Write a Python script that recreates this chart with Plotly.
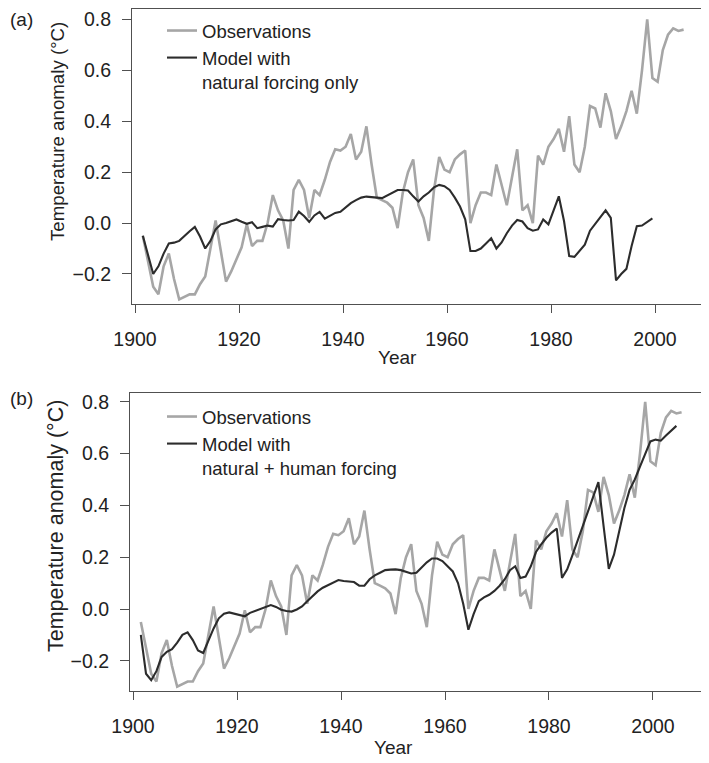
import plotly.graph_objects as go

# ---------------- data ----------------
obs_years = list(range(1901, 2006))
obs_anom = [
    -0.05, -0.15, -0.25, -0.28, -0.17, -0.12, -0.22, -0.30, -0.29, -0.28,   # 1901-1910
    -0.28, -0.24, -0.21, -0.10, 0.01, -0.11, -0.23, -0.19, -0.14, -0.095,   # 1911-1920
    -0.005, -0.09, -0.07, -0.07, 0.00, 0.11, 0.05, 0.01, -0.10, 0.13,       # 1921-1930
    0.17, 0.13, 0.02, 0.13, 0.11, 0.17, 0.24, 0.29, 0.285, 0.30,            # 1931-1940
    0.35, 0.25, 0.28, 0.38, 0.23, 0.10, 0.09, 0.08, 0.06, -0.02,            # 1941-1950
    0.12, 0.20, 0.25, 0.07, 0.02, -0.07, 0.13, 0.26, 0.21, 0.20,            # 1951-1960
    0.25, 0.27, 0.285, 0.00, 0.07, 0.12, 0.12, 0.11, 0.23, 0.15,            # 1961-1970
    0.07, 0.18, 0.29, 0.05, 0.07, 0.00, 0.265, 0.23, 0.30, 0.33,            # 1971-1980
    0.37, 0.28, 0.42, 0.23, 0.20, 0.30, 0.46, 0.45, 0.375, 0.51,            # 1981-1990
    0.44, 0.33, 0.38, 0.44, 0.52, 0.43, 0.60, 0.80, 0.57, 0.555,            # 1991-2000
    0.68, 0.74, 0.765, 0.755, 0.76,                                         # 2001-2005
]

nat_years = list(range(1901, 2000))
nat_anom = [
    -0.05, -0.12, -0.20, -0.17, -0.12, -0.08, -0.077, -0.07, -0.05, -0.032,  # 1901-1910
    -0.015, -0.053, -0.10, -0.07, -0.025, -0.005, 0.00, 0.007, 0.014, 0.005, # 1911-1920
    -0.003, 0.003, -0.02, -0.015, -0.01, -0.014, 0.015, 0.012, 0.01, 0.012,  # 1921-1930
    0.045, 0.028, 0.005, 0.03, 0.044, 0.017, 0.03, 0.04, 0.044, 0.06,        # 1931-1940
    0.078, 0.09, 0.10, 0.104, 0.103, 0.10, 0.098, 0.108, 0.12, 0.13,         # 1941-1950
    0.13, 0.128, 0.105, 0.085, 0.105, 0.12, 0.14, 0.15, 0.145, 0.13,         # 1951-1960
    0.10, 0.065, 0.015, -0.11, -0.11, -0.10, -0.08, -0.06, -0.10, -0.076,    # 1961-1970
    -0.04, -0.01, 0.012, 0.006, -0.02, -0.03, -0.025, 0.014, -0.005, 0.05,   # 1971-1980
    0.105, 0.008, -0.13, -0.133, -0.11, -0.085, -0.03, -0.003, 0.025, 0.05,  # 1981-1990
    0.02, -0.225, -0.20, -0.18, -0.09, -0.012, -0.01, 0.005, 0.018,          # 1991-1999
]

all_years = list(range(1901, 2005))
all_anom = [
    -0.10, -0.25, -0.275, -0.24, -0.185, -0.165, -0.155, -0.13, -0.10, -0.09,  # 1901-1910
    -0.12, -0.16, -0.17, -0.12, -0.075, -0.036, -0.018, -0.013, -0.017, -0.022, # 1911-1920
    -0.028, -0.015, -0.008, 0.00, 0.008, 0.015, 0.008, -0.003, -0.008, -0.01,  # 1921-1930
    -0.002, 0.01, 0.03, 0.05, 0.068, 0.082, 0.092, 0.10, 0.112, 0.108,         # 1931-1940
    0.106, 0.104, 0.09, 0.09, 0.115, 0.13, 0.14, 0.15, 0.152, 0.153,           # 1941-1950
    0.15, 0.143, 0.137, 0.14, 0.16, 0.18, 0.195, 0.195, 0.185, 0.165,          # 1951-1960
    0.145, 0.10, 0.02, -0.08, -0.02, 0.03, 0.045, 0.055, 0.07, 0.09,           # 1961-1970
    0.115, 0.15, 0.165, 0.12, 0.125, 0.165, 0.22, 0.25, 0.275, 0.295,          # 1971-1980
    0.31, 0.12, 0.153, 0.207, 0.263, 0.315, 0.372, 0.43, 0.49, 0.32,           # 1981-1990
    0.155, 0.21, 0.30, 0.39, 0.46, 0.50, 0.55, 0.60, 0.647, 0.654,             # 1991-2000
    0.65, 0.67, 0.69, 0.707,                                                   # 2001-2004
]

x_ticks = [1900, 1920, 1940, 1960, 1980, 2000]
y_ticks = [-0.2, 0.0, 0.2, 0.4, 0.6, 0.8]

name_obs = "Observations"
name_nat = "Model with<br>natural forcing only"
name_all = "Model with<br>natural + human forcing"
x_title = "Year"
y_title = "Temperature anomaly (°C)"

# ---------------- styling ----------------
# the page body has an 8px margin, so the figure is drawn 8px in from the
# top-left corner of the 709x763 window; size it to end at the window edge
OFF = 8
W, H = 709 - OFF, 763 - OFF
FONT = "Liberation Sans, Arial, Helvetica, sans-serif"
TXT = "#222222"
OBS_C = "#a6a6a6"
MOD_C = "#2c2c2c"
AX_C = "#505050"
TICK_SIZE = 19.5


def fx(px):
    return (px - OFF) / W


def fy(py):
    return 1 - (py - OFF) / H


def mid(years):
    # annual values drawn at mid-year
    return [y + 0.5 for y in years]


fig = go.Figure()
fig.add_trace(go.Scatter(x=mid(obs_years), y=obs_anom, mode="lines", name=name_obs,
                         line=dict(color=OBS_C, width=2.6), xaxis="x", yaxis="y", legend="legend"))
fig.add_trace(go.Scatter(x=mid(nat_years), y=nat_anom, mode="lines", name=name_nat,
                         line=dict(color=MOD_C, width=2.1), xaxis="x", yaxis="y", legend="legend"))
fig.add_trace(go.Scatter(x=mid(obs_years), y=obs_anom, mode="lines", name=name_obs,
                         line=dict(color=OBS_C, width=2.6), xaxis="x2", yaxis="y2", legend="legend2"))
fig.add_trace(go.Scatter(x=mid(all_years), y=all_anom, mode="lines", name=name_all,
                         line=dict(color=MOD_C, width=2.1), xaxis="x2", yaxis="y2", legend="legend2"))


def xax(domain, rng, anchor):
    return dict(domain=domain, range=rng, anchor=anchor, tickvals=x_ticks,
                ticks="outside", ticklen=8, tickwidth=1, tickcolor=AX_C,
                showline=True, mirror=True, linecolor=AX_C, linewidth=1,
                showgrid=False, zeroline=False, ticklabelstandoff=10, automargin=False,
                ticklabeloverflow="allow",
                tickfont=dict(family=FONT, size=TICK_SIZE, color=TXT))


def yax(domain, rng, anchor):
    return dict(domain=domain, range=rng, anchor=anchor, tickvals=y_ticks, tickformat=".1f",
                ticks="outside", ticklen=9, tickwidth=1, tickcolor=AX_C,
                showline=True, mirror=True, linecolor=AX_C, linewidth=1,
                showgrid=False, zeroline=False, ticklabelstandoff=7, automargin=False,
                ticklabeloverflow="allow",
                tickfont=dict(family=FONT, size=TICK_SIZE, color=TXT))


legend_common = dict(bgcolor="rgba(0,0,0,0)", borderwidth=0, valign="top",
                     font=dict(family=FONT, size=18.5, color=TXT), itemwidth=30,
                     xanchor="left", yanchor="top", tracegroupgap=0)


def ann(text, px, py, size, angle=0):
    return dict(text=text, x=fx(px), y=fy(py), xref="paper", yref="paper",
                xanchor="center", yanchor="middle", showarrow=False, textangle=angle,
                font=dict(family=FONT, size=size, color=TXT))


fig.update_layout(
    width=W, height=H,
    margin=dict(l=0, r=0, t=0, b=0, pad=0, autoexpand=False),
    paper_bgcolor="white", plot_bgcolor="white",
    showlegend=True,
    xaxis=xax([fx(132), fx(708)], [1899.42, 2010.19], "y"),
    yaxis=yax([fy(304), fy(9)], [-0.318, 0.841], "x"),
    xaxis2=xax([fx(130), fx(708)], [1899.42, 2010.58], "y2"),
    yaxis2=yax([fy(691), fy(393)], [-0.3166, 0.834], "x2"),
    legend=dict(x=fx(162), y=fy(12), **legend_common),
    legend2=dict(x=fx(162), y=fy(398), **legend_common),
    annotations=[
        ann("(a)", 21, 20, 19),
        ann("(b)", 21, 398, 19),
        ann(x_title, 397, 358, 19),
        ann(x_title, 393, 747, 19),
        ann(y_title, 57, 132, 18.7, -90),
        ann(y_title, 56, 526, 21.5, -90),
    ],
)

fig.write_html("out.html")
